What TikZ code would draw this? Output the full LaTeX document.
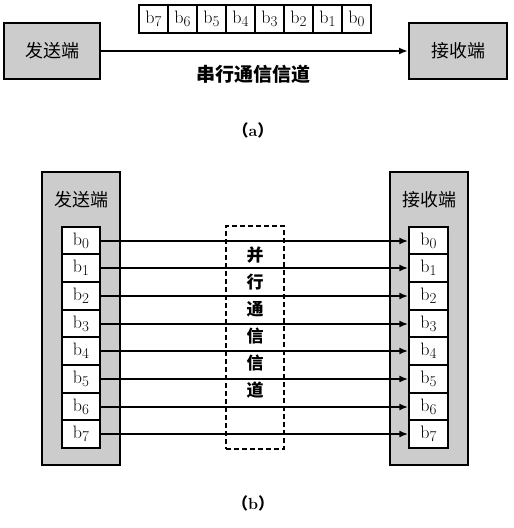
\documentclass[tikz,border=0pt]{standalone}
\usepackage{fontspec}
\newfontfamily\cjk{Noto Sans CJK SC}
\usetikzlibrary{arrows.meta}
\newcommand\bitlbl[1]{\fontsize{18}{18}\selectfont b\raisebox{-3.4pt}{\fontsize{15}{15}\selectfont #1}}
\begin{document}
\begin{tikzpicture}[x=1pt,y=-1pt,
  grayblk/.style={draw,line width=2pt,fill=black!20,inner sep=0},
  cell/.style={draw,line width=1.4pt,fill=white,inner sep=0,minimum width=38pt,minimum height=27.625pt},
  hcell/.style={draw,line width=1.4pt,fill=white,inner sep=0,minimum width=29pt,minimum height=28pt},
  conn/.style={line width=2pt,-{Latex[length=9pt,width=7pt]}},
  boxlbl/.style={font=\cjk\fontsize{18}{18}\selectfont},
  chlbl/.style={font=\cjk\bfseries\fontsize{17}{17}\selectfont},
  caplbl/.style={font=\bfseries\fontsize{16}{16}\selectfont}]
\useasboundingbox (0,0) rectangle (514,528);
% ---------- (a) ----------
\node[grayblk,minimum width=96pt,minimum height=56pt] (sa) at (52,51) {};
\node[boxlbl] (sal) at (sa.center) {发送端};
\node[grayblk,minimum width=98pt,minimum height=56pt] (ra) at (458,51) {};
\node[boxlbl] (ral) at (ra.center) {接收端};
\draw[conn] (sa.east) -- (ra.west);
\foreach \d [count=\i from 0] in {7,6,5,4,3,2,1,0}{
  \node[hcell] (h\d) at (153.5+29*\i,19) {\bitlbl{\d}};
}
\node[font=\cjk\bfseries\fontsize{19}{19}\selectfont] (serial) at (253,74) {串行通信信道};
\node[caplbl] (capa) at (253,130) {{\cjk （}a{\cjk ）}};
% ---------- (b) ----------
\node[grayblk,minimum width=78pt,minimum height=293pt] (sb) at (81,318.5) {};
\node[boxlbl] (sbl) at (81,200) {发送端};
\node[grayblk,minimum width=78pt,minimum height=293pt] (rb) at (429,318.5) {};
\node[boxlbl] (rbl) at (429,200) {接收端};
\node[draw,line width=1.5pt,dash pattern=on 5pt off 3pt,minimum width=58pt,minimum height=223pt,inner sep=0] (chan) at (255,337.5) {};
\foreach \d/\yy in {0/241,1/268,2/296,3/324,4/351,5/379,6/407,7/434}{
  \node[cell] (l\d) at (81,\yy) {\bitlbl{\d}};
  \node[cell,minimum width=39pt] (r\d) at (428.5,\yy) {\bitlbl{\d}};
}
\foreach \d in {0,...,7}{
  \draw[conn] (l\d.east) -- (r\d.west);
}
\foreach \c [count=\i from 0] in {并,行,通,信,信,道}{
  \node[chlbl,inner sep=1pt] (c\i) at (255,255+27*\i) {\c};
}
\node[caplbl] (capb) at (253,503) {{\cjk （}b{\cjk ）}};
\end{tikzpicture}
\end{document}
